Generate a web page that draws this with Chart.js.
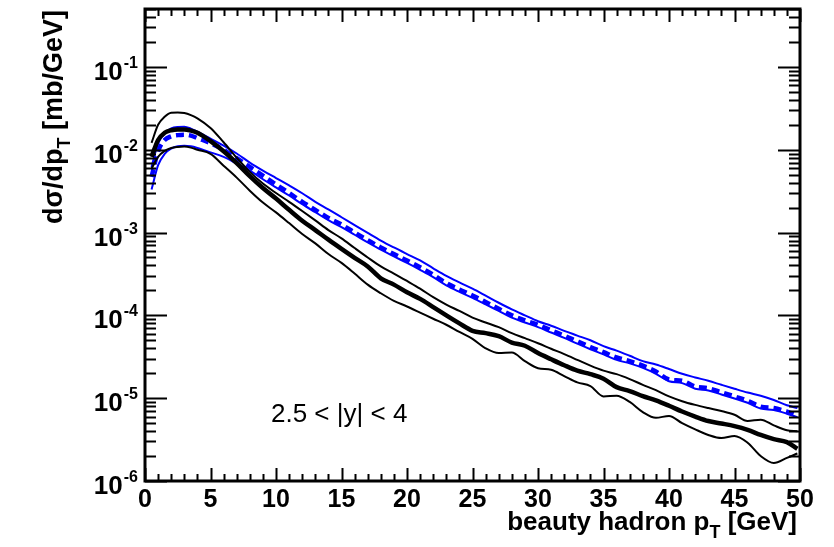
<!DOCTYPE html>
<html>
<head>
<meta charset="utf-8">
<script src="https://cdn.jsdelivr.net/npm/chart.js@4.4.0/dist/chart.umd.min.js"></script>
<style>
  html, body { margin: 0; padding: 0; background: #fff; }
  canvas { display: block; }
</style>
</head>
<body>
<canvas id="xsec" width="834" height="547"></canvas>
<script>
// pT bin centres (GeV)
const ptBins = [0.5, 1, 1.5, 2, 2.5, 3, 3.5, 4, 5, 6, 7, 8, 9, 10, 11, 12, 13, 14, 15, 16, 17, 18, 19,
  20, 21, 22, 23, 24, 25, 26, 27, 28, 29, 30, 31, 32, 33, 34, 35, 36, 37, 38, 39, 40, 41, 42, 43, 44,
  45, 46, 47, 48, 49, 49.8];

// black band: central + upper/lower (mb/GeV)
const blackCentral = [8.2e-3, 1.31e-2, 1.60e-2, 1.72e-2, 1.76e-2, 1.76e-2, 1.70e-2, 1.60e-2,
  1.27e-2, 9.6e-3, 6.9e-3, 4.8e-3, 3.45e-3, 2.57e-3, 1.88e-3, 1.39e-3, 1.07e-3, 8.2e-4, 6.35e-4,
  4.95e-4, 3.9e-4, 2.8e-4, 2.35e-4, 1.9e-4, 1.58e-4, 1.26e-4, 1.0e-4, 8.0e-5, 6.5e-5, 6.1e-5, 5.6e-5,
  4.7e-5, 4.3e-5, 3.5e-5, 2.95e-5, 2.5e-5, 2.15e-5, 1.95e-5, 1.72e-5, 1.36e-5, 1.22e-5, 1.06e-5,
  9.4e-6, 8.1e-6, 6.9e-6, 6.0e-6, 5.3e-6, 4.95e-6, 4.6e-6, 4.15e-6, 3.6e-6, 3.2e-6, 2.95e-6, 2.45e-6];
const blackUpper = [1.21e-2, 2.0e-2, 2.5e-2, 2.8e-2, 2.82e-2, 2.78e-2, 2.62e-2, 2.39e-2,
  1.83e-2, 1.23e-2, 8.0e-3, 5.4e-3, 3.9e-3, 3.0e-3, 2.35e-3, 1.82e-3, 1.4e-3, 1.07e-3, 8.5e-4,
  6.5e-4, 5.0e-4, 3.9e-4, 3.2e-4, 2.6e-4, 2.1e-4, 1.66e-4, 1.35e-4, 1.13e-4, 9.4e-5, 8.2e-5, 7.2e-5,
  6.1e-5, 5.3e-5, 4.6e-5, 3.95e-5, 3.4e-5, 2.9e-5, 2.47e-5, 2.15e-5, 1.95e-5, 1.7e-5, 1.45e-5,
  1.25e-5, 1.05e-5, 9.2e-6, 8.3e-6, 7.6e-6, 7.0e-6, 6.3e-6, 5.3e-6, 5.5e-6, 4.7e-6, 4.1e-6, 4.0e-6];
const blackLower = [5.9e-3, 8.2e-3, 9.7e-3, 1.05e-2, 1.08e-2, 1.09e-2, 1.06e-2, 1.0e-2,
  8.9e-3, 6.4e-3, 4.6e-3, 3.2e-3, 2.3e-3, 1.75e-3, 1.3e-3, 9.6e-4, 7.4e-4, 5.5e-4, 4.3e-4,
  3.2e-4, 2.35e-4, 1.85e-4, 1.5e-4, 1.28e-4, 1.08e-4, 9.1e-5, 7.7e-5, 6.3e-5, 5.2e-5, 4.0e-5, 3.5e-5,
  3.55e-5, 2.8e-5, 2.3e-5, 2.2e-5, 1.85e-5, 1.55e-5, 1.4e-5, 1.05e-5, 1.07e-5, 9.0e-6, 6.8e-6,
  5.8e-6, 6.1e-6, 5.0e-6, 4.2e-6, 3.6e-6, 3.3e-6, 3.5e-6, 2.9e-6, 2.0e-6, 1.65e-6, 1.9e-6, 2.15e-6];

// blue band: central (dashed) + upper/lower
const blueCentral = [4.7e-3, 9.6e-3, 1.31e-2, 1.45e-2, 1.50e-2, 1.52e-2, 1.48e-2, 1.38e-2,
  1.2e-2, 1.0e-2, 7.9e-3, 6.2e-3, 4.85e-3, 3.8e-3, 3.0e-3, 2.35e-3, 1.88e-3, 1.5e-3, 1.25e-3,
  1.0e-3, 8.1e-4, 6.6e-4, 5.5e-4, 4.6e-4, 3.8e-4, 3.1e-4, 2.45e-4, 2.05e-4, 1.74e-4, 1.45e-4, 1.2e-4,
  1.0e-4, 8.7e-5, 7.7e-5, 6.6e-5, 5.7e-5, 4.85e-5, 4.15e-5, 3.6e-5, 3.1e-5, 2.8e-5, 2.47e-5,
  2.1e-5, 1.68e-5, 1.62e-5, 1.38e-5, 1.32e-5, 1.18e-5, 1.05e-5, 9.3e-6, 7.9e-6, 7.6e-6, 6.9e-6, 6.2e-6];
const blueUpper = [6.2e-3, 1.19e-2, 1.58e-2, 1.81e-2, 1.88e-2, 1.89e-2, 1.80e-2, 1.65e-2,
  1.36e-2, 1.12e-2, 9.0e-3, 7.0e-3, 5.6e-3, 4.55e-3, 3.7e-3, 2.98e-3, 2.35e-3, 1.9e-3, 1.53e-3,
  1.23e-3, 9.9e-4, 8.0e-4, 6.6e-4, 5.5e-4, 4.6e-4, 3.7e-4, 3.0e-4, 2.5e-4, 2.1e-4, 1.73e-4, 1.42e-4,
  1.18e-4, 1.0e-4, 8.5e-5, 7.5e-5, 6.5e-5, 5.7e-5, 5.0e-5, 4.25e-5, 3.75e-5, 3.25e-5, 2.8e-5,
  2.55e-5, 2.25e-5, 1.97e-5, 1.78e-5, 1.62e-5, 1.45e-5, 1.3e-5, 1.17e-5, 1.07e-5, 9.5e-6, 8.2e-6, 7.6e-6];
const blueLower = [3.3e-3, 6.5e-3, 8.9e-3, 1.03e-2, 1.10e-2, 1.12e-2, 1.10e-2, 1.05e-2,
  9.3e-3, 8.2e-3, 6.8e-3, 5.6e-3, 4.4e-3, 3.5e-3, 2.8e-3, 2.2e-3, 1.76e-3, 1.41e-3, 1.16e-3,
  9.4e-4, 7.6e-4, 6.2e-4, 5.15e-4, 4.3e-4, 3.55e-4, 2.9e-4, 2.3e-4, 1.92e-4, 1.63e-4, 1.36e-4, 1.13e-4,
  9.4e-5, 8.2e-5, 7.2e-5, 6.2e-5, 5.35e-5, 4.55e-5, 3.9e-5, 3.38e-5, 2.9e-5, 2.63e-5, 2.32e-5,
  1.97e-5, 1.6e-5, 1.52e-5, 1.3e-5, 1.24e-5, 1.11e-5, 9.9e-6, 8.8e-6, 7.5e-6, 7.2e-6, 6.5e-6, 5.9e-6];

// axis ranges and labels
const xRange = [0, 50];
const yRange = [1e-6, 0.5];
const xTickLabels = [0, 5, 10, 15, 20, 25, 30, 35, 40, 45, 50];
const yDecades = [-6, -5, -4, -3, -2, -1];

const FONT = '"Liberation Sans", Arial, Helvetica, sans-serif';
const BLUE = '#0000ff';

function toPoints(values) {
  return values.map((v, i) => ({ x: ptBins[i], y: v }));
}

function line(values, color, width, dash) {
  return {
    data: toPoints(values),
    borderColor: color,
    borderWidth: width,
    borderDash: dash || [],
    pointRadius: 0,
    fill: false,
    tension: 0.3,
    cubicInterpolationMode: 'monotone',
  };
}

// draws "10^exp" right-aligned at xRight, centred on y
function drawPower(ctx, exp, xRight, y) {
  ctx.font = 'bold 16px ' + FONT;
  const sup = '-' + Math.abs(exp);
  const wSup = ctx.measureText(sup).width;
  ctx.textAlign = 'left';
  ctx.fillText(sup, xRight - wSup, y + 1);
  ctx.font = 'bold 26px ' + FONT;
  const wBase = ctx.measureText('10').width;
  ctx.fillText('10', xRight - wSup - wBase - 1, y + 13);
}

// text with a lowered subscript in the middle, ending at x = 0
function drawSubText(ctx, head, sub, tail, size, subSize, drop) {
  ctx.font = 'bold ' + size + 'px ' + FONT;
  const wHead = ctx.measureText(head).width;
  const wTail = ctx.measureText(tail).width;
  ctx.font = 'bold ' + subSize + 'px ' + FONT;
  const wSub = ctx.measureText(sub).width;
  const x0 = -(wHead + wSub + wTail);
  ctx.textAlign = 'left';
  ctx.font = 'bold ' + size + 'px ' + FONT;
  ctx.fillText(head, x0, 0);
  ctx.fillText(tail, x0 + wHead + wSub, 0);
  ctx.font = 'bold ' + subSize + 'px ' + FONT;
  ctx.fillText(sub, x0 + wHead, drop);
}

const axesPlugin = {
  id: 'rootAxes',
  afterDraw(chart) {
    const ctx = chart.ctx;
    const a = chart.chartArea;
    const xs = chart.scales.x;
    const ys = chart.scales.y;
    ctx.save();
    ctx.strokeStyle = '#000';
    ctx.fillStyle = '#000';

    // ticks on all four sides
    ctx.lineWidth = 2;
    ctx.beginPath();
    for (let v = xRange[0]; v <= xRange[1]; v++) {
      const px = Math.round(xs.getPixelForValue(v)) + 0.5;
      const len = v % 5 === 0 ? 13 : 7;
      ctx.moveTo(px, a.bottom); ctx.lineTo(px, a.bottom - len);
      ctx.moveTo(px, a.top); ctx.lineTo(px, a.top + len);
    }
    yDecades.forEach(d => {
      for (let m = 1; m <= 9; m++) {
        const v = m * Math.pow(10, d);
        if (v > yRange[1]) break;
        const py = Math.round(ys.getPixelForValue(v)) + 0.5;
        const len = m === 1 ? 22 : 11;
        ctx.moveTo(a.left, py); ctx.lineTo(a.left + len, py);
        ctx.moveTo(a.right, py); ctx.lineTo(a.right - len, py);
      }
    });
    ctx.stroke();

    // frame
    ctx.lineWidth = 3;
    ctx.strokeRect(a.left, a.top, a.right - a.left, a.bottom - a.top);

    // x tick labels
    ctx.font = 'bold 25px ' + FONT;
    ctx.textAlign = 'center';
    ctx.textBaseline = 'alphabetic';
    xTickLabels.forEach(v => {
      ctx.fillText(String(v), xs.getPixelForValue(v), a.bottom + 26);
    });

    // y tick labels
    yDecades.forEach(d => {
      drawPower(ctx, d, 138, ys.getPixelForValue(Math.pow(10, d)));
    });

    // x title
    ctx.save();
    ctx.translate(797, 530);
    drawSubText(ctx, 'beauty hadron p', 'T', ' [GeV]', 26, 18, 8);
    ctx.restore();

    // y title, rotated
    ctx.save();
    ctx.translate(62, 10);
    ctx.rotate(-Math.PI / 2);
    drawSubText(ctx, 'd\u03c3/dp', 'T', ' [mb/GeV]', 27, 18, 8);
    ctx.restore();

    // rapidity range
    ctx.font = '26px ' + FONT;
    ctx.textAlign = 'left';
    ctx.fillText('2.5 < |y| < 4', 271, 422);

    ctx.restore();
  }
};

new Chart(document.getElementById('xsec'), {
  type: 'line',
  data: {
    datasets: [
      line(blackUpper, '#000', 2),
      line(blackLower, '#000', 2),
      line(blackCentral, '#000', 4.5),
      line(blueUpper, BLUE, 2),
      line(blueLower, BLUE, 2),
      line(blueCentral, BLUE, 4.5, [8, 5]),
    ],
  },
  options: {
    responsive: false,
    animation: false,
    devicePixelRatio: 1,
    layout: { padding: { left: 145, top: 9, right: 34, bottom: 66 } },
    plugins: { legend: { display: false }, tooltip: { enabled: false } },
    scales: {
      x: { type: 'linear', min: xRange[0], max: xRange[1], display: false },
      y: { type: 'logarithmic', min: yRange[0], max: yRange[1], display: false },
    },
  },
  plugins: [axesPlugin],
});
</script>
</body>
</html>
